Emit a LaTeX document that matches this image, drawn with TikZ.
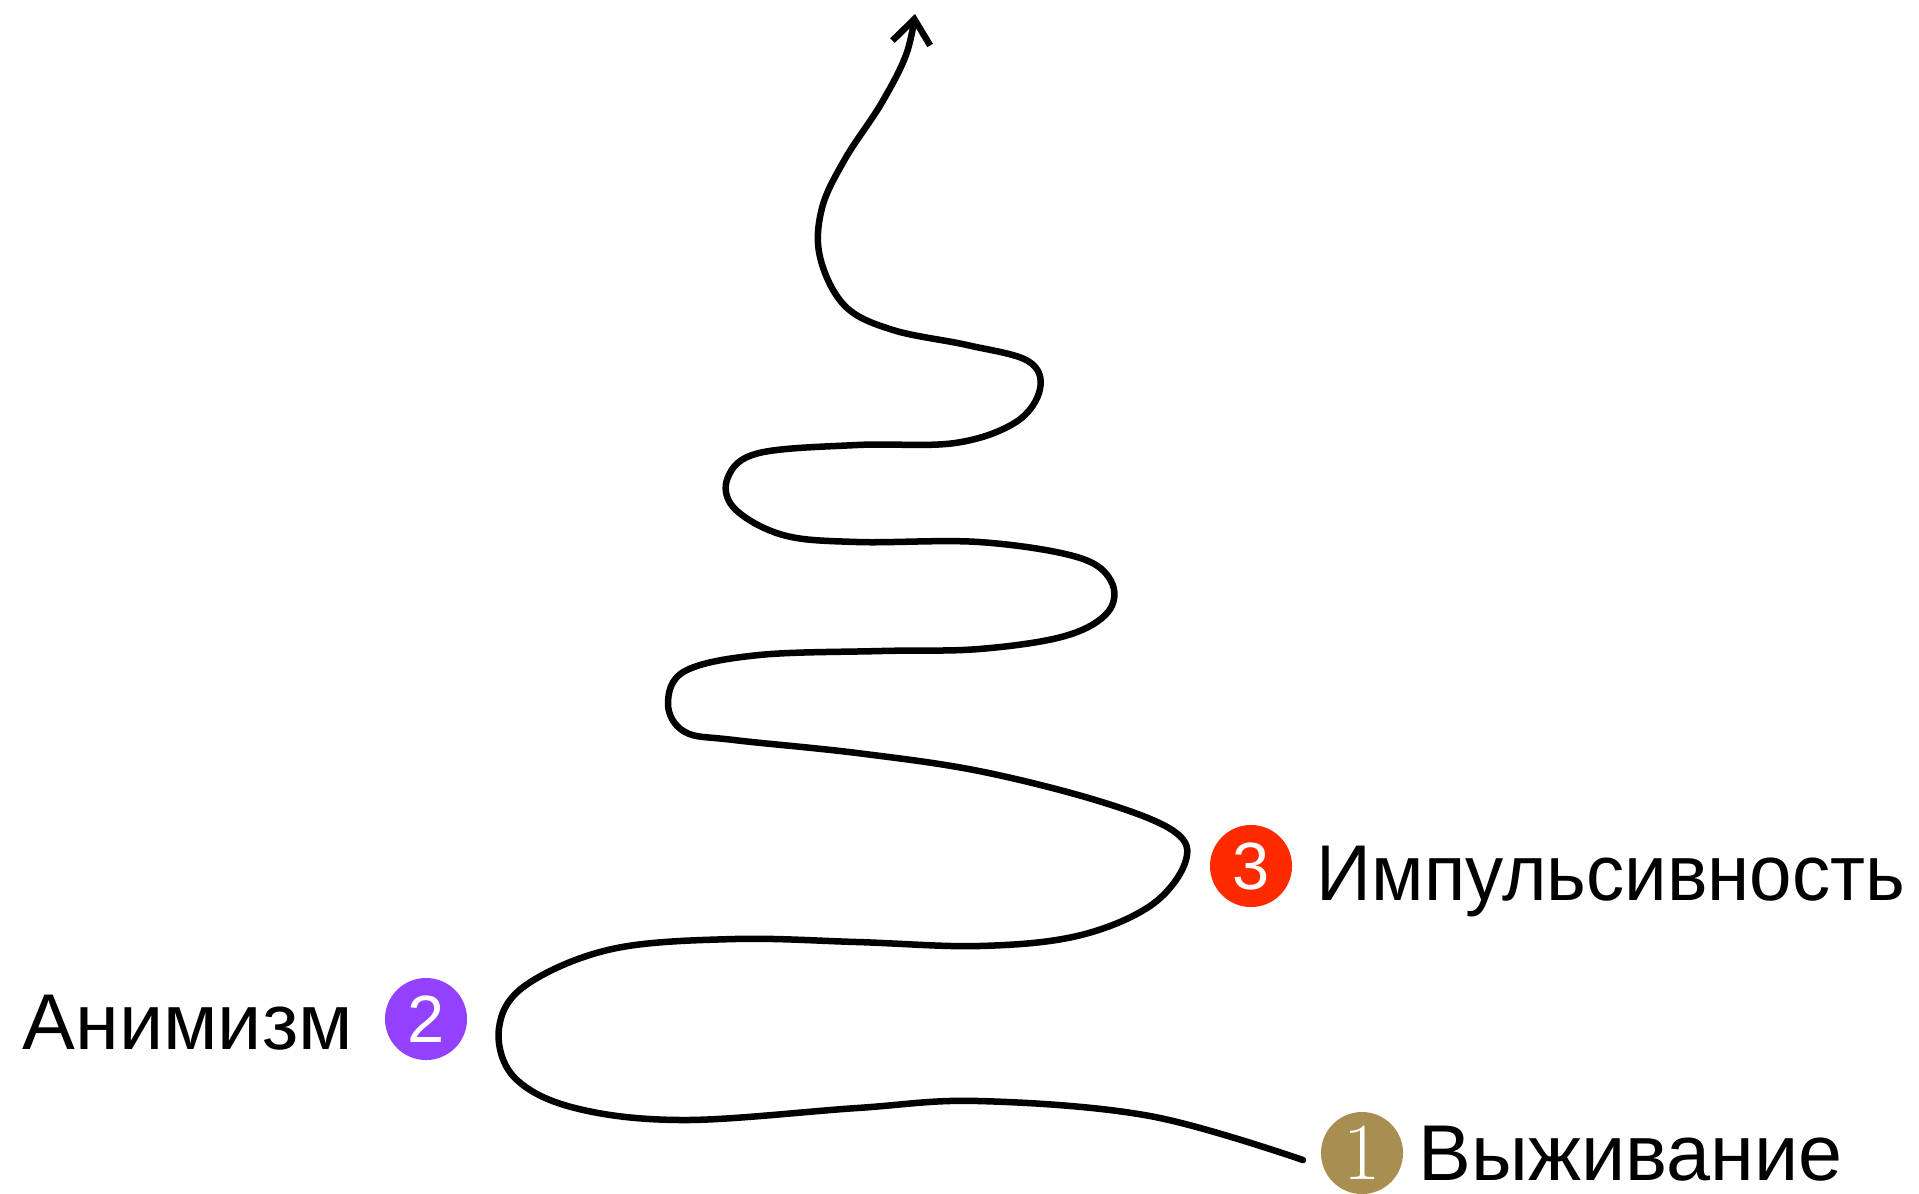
\documentclass[tikz,border=0pt]{standalone}
\usepackage{fontspec}
\setmainfont{Liberation Sans}
\newfontfamily\numserif{Latin Modern Roman}
\usetikzlibrary{arrows.meta}
\definecolor{goldc}{HTML}{A98E52}
\definecolor{purplec}{HTML}{9440FF}
\definecolor{redc}{HTML}{FF2A00}
\tikzset{
  badge/.style={circle, fill=#1, minimum size=0.82cm, inner sep=0pt, text=white, font=\fontsize{19}{19}\selectfont},
  label/.style={font=\fontsize{22.5}{22.5}\selectfont, inner sep=0pt, anchor=base west},
  spiral/.style={line width=0.065cm, line cap=round, line join=round}
}
\begin{document}
\begin{tikzpicture}[x=0.01cm, y=-0.01cm]
\useasboundingbox (0,0) rectangle (1919,1193);
% winding path from the bottom upwards
\draw[spiral, -{Straight Barb[length=0.24cm, width=0.38cm, line width=0.065cm]}]
  plot[smooth, tension=0.6] coordinates {
  (1303,1160) (1150,1116) (979,1101) (857,1108) (685,1120) (575,1108)
  (514,1077) (499,1028) (526,985) (612,949) (734,939) (857,942) (979,946)
  (1077,936) (1150,906) (1185,863) (1175,832) (1102,802) (979,771)
  (857,753) (734,740) (685,732) (668,704) (685,671) (759,655) (881,651)
  (979,649) (1065,636) (1108,612) (1111,581) (1077,557) (979,542)
  (857,542) (783,535) (734,508) (728,477) (759,453) (857,445) (955,443)
  (1016,422) (1040,389) (1028,361) (967,345) (893,330) (845,306)
  (820,257) (822,208) (845,159) (881,104) (906,55) (915,14)};
% stage badges
\node[badge=goldc] (b1) at (1362,1153) {\numserif\fontsize{23}{23}\selectfont 1};
\node[badge=purplec] (b2) at (426,1019) {2};
\node[badge=redc] (b3) at (1251,866) {3};
% stage labels
\node[label] (l1) at (1418,1180) {Выживание};
\node[label] (l2) at (22,1049) {Анимизм};
\node[label, xscale=0.965] (l3) at (1316,900) {Импульсивность};
\end{tikzpicture}
\end{document}
